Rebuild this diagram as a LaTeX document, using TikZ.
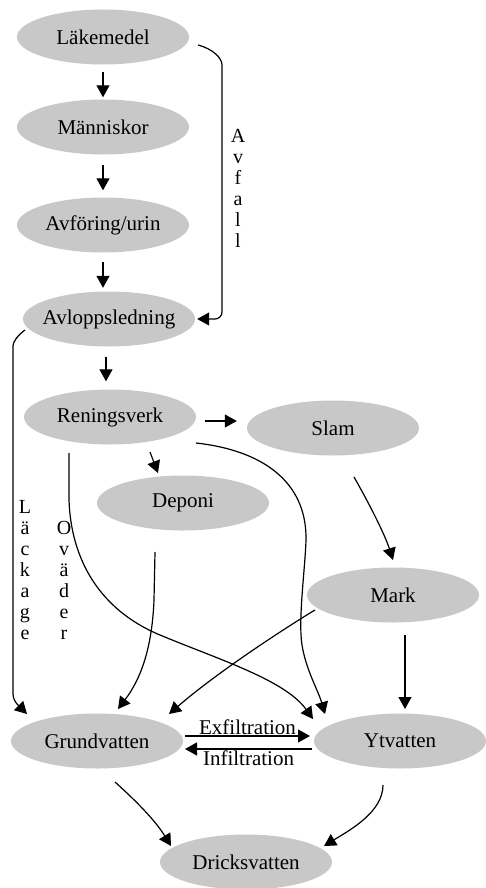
\documentclass[tikz,border=0pt]{standalone}
\usepackage{fontspec}
\setmainfont{Liberation Serif}
\usetikzlibrary{arrows.meta,shapes.geometric}
\definecolor{blobgray}{RGB}{200,200,200}

\begin{document}
\begin{tikzpicture}[
    % GLOBAL CFG
    x=1pt, y=-1pt,
    font=\fontsize{21}{23}\selectfont,
    >={Triangle[length=12pt,width=13pt]},
    % Styles
    place/.style={% For the gray ellipses
        ellipse,
        fill=blobgray,
        minimum width=172pt,
        minimum height=55pt,
        inner xsep=-16pt,
        inner ysep=0pt,
        },
    flow/.style={% Thin arrows
        ->,
        line width=1.2pt,
        },
    vlabel/.style={% Letters stacked vertically
        align=center,
        inner sep=0pt,
        font=\fontsize{20}{21}\selectfont,
        },
    ]

    % Page
    \useasboundingbox[fill=white] (0,0) rectangle (486,888);

    % Draw the places
    \node [place] (lake) at (103,37) {Läkemedel};
    \node [place] (mann) at (103,127) {Människor};
    \node [place] (avfor) at (103,225) {Avföring/urin};
    \node [place] (avlopp) at (109,319) {Avloppsledning};
    \node [place] (ren) at (110,417) {Reningsverk};
    \node [place] (slam) at (333,428) {Slam};
    \node [place] (depo) at (183,503) {Deponi};
    \node [place] (mark) at (393,595) {Mark};
    \node [place] (grund) at (97,741) {Grundvatten};
    \node [place] (ytv) at (400,741) {Ytvatten};
    \node [place] (drick) at (246,862) {Dricksvatten};

    % Vertical labels
    \node [vlabel] (avfall) at (238,188) {A\\v\\f\\a\\l\\l};
    \node [vlabel] (lack) at (25,570) {L\\ä\\c\\k\\a\\g\\e};
    \node [vlabel] (ovad) at (64,580) {O\\v\\ä\\d\\e\\r};

    % Main chain
    \draw [flow, shorten <=7pt, shorten >=2pt] (lake.south) -- (mann.north);
    \draw [flow, shorten <=10pt, shorten >=7pt] (mann.south) -- (avfor.north);
    \draw [flow, shorten <=9.5pt, shorten >=3.5pt] (avfor.south) -- (avfor.south |- avlopp.north);
    \draw [flow, shorten <=10pt, shorten >=8pt] ([xshift=-3pt]avlopp.south) -- ([xshift=-4pt]ren.north);

    % Avfall
    \draw [flow, rounded corners=7pt] ([shift={(95,8)}]lake.center)
        .. controls +(15,4) and +(0,-14) .. (222,72) |- ([xshift=2pt]avlopp.east);

    % Läckage
    \draw [flow, rounded corners=6pt] ([shift={(-84,11)}]avlopp.center)
        .. controls +(-8,6) and +(0,-10) .. (13,352) -- (13,700)
        -- ([shift={(-70,-27)}]grund.center);

    % From Reningsverk
    \coordinate (rs) at ([yshift=-4pt]ren.east);
    \draw [flow, shorten <=9pt, shorten >=10pt] (rs) -- (rs -| slam.west);
    \draw [flow] ([shift={(40,35)}]ren.center) -- ([shift={(-25,-30)}]depo.center);
    \draw [flow] ([shift={(-41,36)}]ren.center) -- (69,500)
        .. controls (71,560) and (100,610) .. (160,635)
        .. controls (220,660) and (285,680) .. ([shift={(-87,-22)}]ytv.center);
    \draw [flow] ([shift={(86,26)}]ren.center)
        .. controls (260,450) and (307,480) .. (306,540)
        .. controls (305,570) and (298,620) .. (302,645)
        .. controls (306,670) and (318,690) .. ([shift={(-75,-27)}]ytv.center);

    % Deponi, Slam and Mark
    \draw [flow] ([shift={(-28,49)}]depo.center) -- (154,600)
        .. controls (152,650) and (140,680) .. ([shift={(21,-32)}]grund.center);
    \draw [flow] ([shift={(21,49)}]slam.center)
        .. controls (370,505) and (385,535) .. ([shift={(0,-35)}]mark.center);
    \draw [flow] ([shift={(-78,15)}]mark.center)
        .. controls (290,625) and (220,670) .. ([shift={(72,-27)}]grund.center);
    \draw [flow] ([shift={(12,40)}]mark.center) -- ([shift={(5,-32)}]ytv.center);

    % Between the waters
    \draw [flow] ([shift={(88,-5)}]grund.center) -- ([shift={(-90,-5)}]ytv.center)
        node[midway, above, inner sep=1pt] {Exfiltration};
    \draw [flow] ([shift={(-88,8)}]ytv.center) -- ([shift={(88,8)}]grund.center)
        node[midway, below, inner sep=1pt] {Infiltration};

    % To Dricksvatten
    \draw [flow] ([shift={(18,41)}]grund.center)
        .. controls (135,800) and (155,820) .. ([shift={(-75,-16)}]drick.center);
    \draw [flow] ([shift={(-17,44)}]ytv.center)
        .. controls (383,812) and (350,830) .. ([shift={(78,-16)}]drick.center);

\end{tikzpicture}
\end{document}
